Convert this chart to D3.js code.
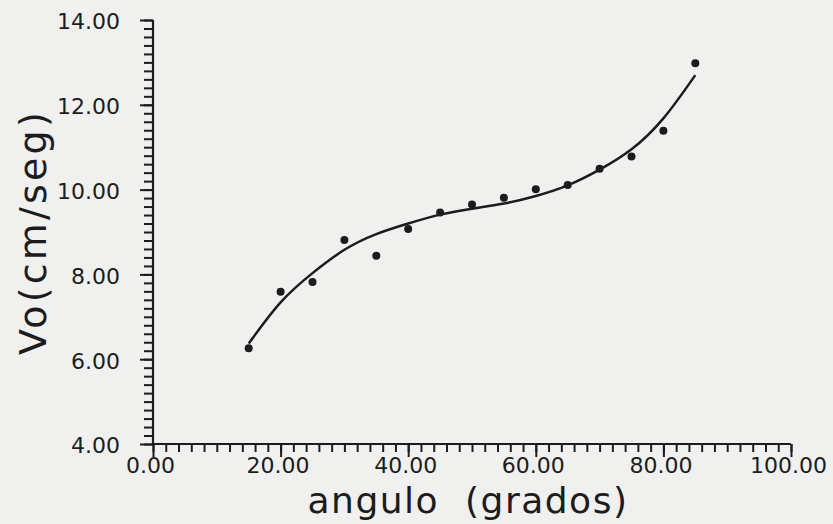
<!DOCTYPE html>
<html>
<head>
<meta charset="utf-8">
<script src="https://cdn.jsdelivr.net/npm/d3@7/dist/d3.min.js"></script>
<style>
  html, body { margin: 0; padding: 0; background: #f0f0ef; }
  svg { display: block; }
  text { font-family: "DejaVu Sans", sans-serif; fill: #1c1c1c; }
</style>
</head>
<body>
<svg id="chart" width="833" height="524"></svg>
<script>
// Measured initial velocity against launch angle
const angles = [15, 20, 25, 30, 35, 40, 45, 50, 55, 60, 65, 70, 75, 80, 85];
const velocity = [6.26, 7.59, 7.82, 8.81, 8.44, 9.07, 9.46, 9.65, 9.81, 10.01, 10.11, 10.49, 10.78, 11.39, 12.98];

// Fitted trend curve, sampled at the same angles
const fitVelocity = [6.37, 7.34, 8.03, 8.58, 8.95, 9.20, 9.41, 9.55, 9.67, 9.85, 10.10, 10.47, 10.95, 11.68, 12.70];

// Axis ticks
const xMajorTicks = [0, 20, 40, 60, 80, 100];
const xMinorTicks = d3.range(0, 100.01, 2);
const yMajorTicks = [4, 6, 8, 10, 12, 14];
const yMinorTicks = d3.range(4, 14.001, 0.2);

const xTitle = "angulo  (grados)";
const yTitle = "Vo(cm/seg)";

const svg = d3.select("#chart");
const ink = "#1c1c1c";

const x = d3.scaleLinear().domain([0, 100]).range([153, 791]);
const y = d3.scaleLinear().domain([4, 14]).range([444, 20]);
const fmt = d3.format(".2f");

// x axis: minor ticks, then long major ticks with labels
const gx = svg.append("g").attr("transform", `translate(0,${y(4)})`);
gx.append("g").call(d3.axisBottom(x).tickValues(xMinorTicks).tickSize(8).tickFormat(""));
gx.append("g").call(d3.axisBottom(x).tickValues(xMajorTicks).tickSize(13).tickPadding(0).tickFormat(fmt));

// y axis
const gy = svg.append("g").attr("transform", `translate(${x(0)},0)`);
gy.append("g").call(d3.axisLeft(y).tickValues(yMinorTicks).tickSize(9).tickFormat(""));
gy.append("g").call(d3.axisLeft(y).tickValues(yMajorTicks).tickSize(13).tickPadding(20).tickFormat(fmt));

svg.selectAll(".tick line").attr("stroke", ink).attr("stroke-width", 2);

gx.selectAll(".tick text")
  .attr("font-size", 22).attr("dx", -3).attr("y", 13).attr("dy", "0.71em")
  .attr("fill", ink);
gy.selectAll(".tick text")
  .attr("font-size", 22).attr("dy", "0.4em")
  .attr("fill", ink);

// plain axis lines in place of the domain paths
svg.selectAll(".domain").remove();
svg.append("line").attr("x1", x(0)).attr("x2", x(100)).attr("y1", y(4)).attr("y2", y(4))
  .attr("stroke", ink).attr("stroke-width", 2.2);
svg.append("line").attr("x1", x(0)).attr("x2", x(0)).attr("y1", y(4)).attr("y2", y(14))
  .attr("stroke", ink).attr("stroke-width", 2.2);

// axis titles
svg.append("text")
  .attr("x", 468).attr("y", 513)
  .attr("text-anchor", "middle")
  .attr("font-size", 36).attr("letter-spacing", 1.5)
  .style("white-space", "pre")
  .text(xTitle);

svg.append("text")
  .attr("transform", "translate(46,232) rotate(-90)")
  .attr("text-anchor", "middle")
  .attr("font-size", 38).attr("letter-spacing", 3.2)
  .text(yTitle);

// fitted curve
const line = d3.line()
  .x((d, i) => x(angles[i]))
  .y(d => y(d))
  .curve(d3.curveNatural);
svg.append("path")
  .datum(fitVelocity)
  .attr("d", line)
  .attr("fill", "none")
  .attr("stroke", ink)
  .attr("stroke-width", 2.5);

// measured points
svg.append("g").selectAll("circle")
  .data(velocity)
  .join("circle")
  .attr("cx", (d, i) => x(angles[i]))
  .attr("cy", d => y(d))
  .attr("r", 4)
  .attr("fill", ink);
</script>
</body>
</html>
